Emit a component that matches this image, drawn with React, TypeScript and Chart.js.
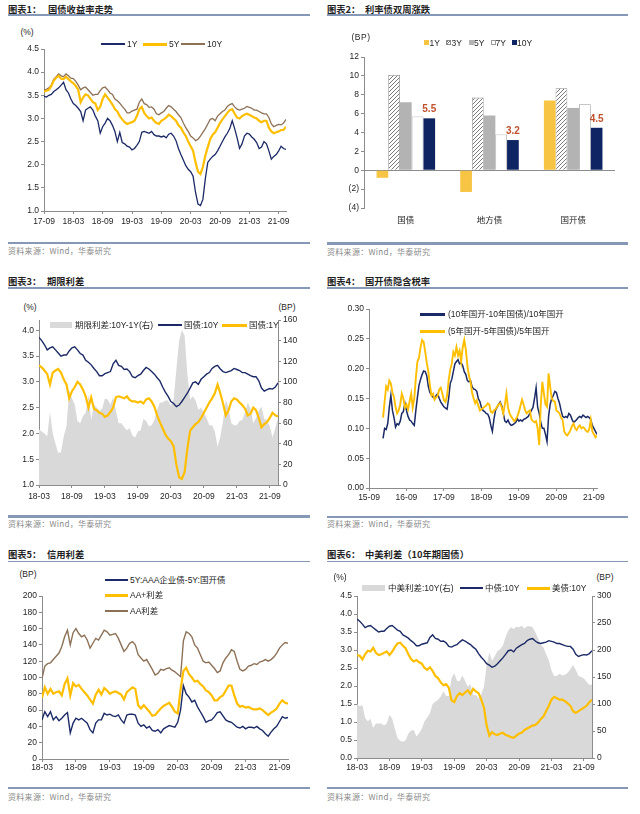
import React, { useEffect, useRef } from 'react';
import { Chart, registerables } from 'chart.js';
Chart.register(...registerables);

// ---------------- DATA ----------------
// Panel 1: China government bond yields (%), half-month steps from 2017-09
const p1XLabels = ['17-09', '18-03', '18-09', '19-03', '19-09', '20-03', '20-09', '21-03', '21-09'];
const cgb1Y = [
  3.48, 3.46, 3.50, 3.52, 3.58, 3.62, 3.66, 3.72, 3.78, 3.62,
  3.55, 3.42, 3.32, 3.28, 3.22, 3.15, 2.95, 3.18, 3.22, 3.25,
  3.18, 3.05, 2.95, 2.68, 2.82, 2.90, 3.00, 2.95, 2.85, 2.72,
  2.50, 2.70, 2.48, 2.45, 2.40, 2.38, 2.32, 2.35, 2.42, 2.50,
  2.70, 2.72, 2.70, 2.68, 2.72, 2.65, 2.62, 2.62, 2.60, 2.62,
  2.58, 2.66, 2.68, 2.62, 2.52, 2.35, 2.22, 2.10, 1.98, 1.90,
  1.85, 1.75, 1.40, 1.15, 1.12, 1.25, 1.70, 2.05, 2.12, 2.18,
  2.22, 2.30, 2.40, 2.50, 2.60, 2.68, 2.78, 2.95, 2.78, 2.58,
  2.35, 2.45, 2.62, 2.68, 2.66, 2.60, 2.55, 2.48, 2.35, 2.38,
  2.50, 2.45, 2.30, 2.12, 2.18, 2.22, 2.30, 2.40, 2.35, 2.33,
];
const cgb5Y = [
  3.58, 3.60, 3.62, 3.70, 3.82, 3.88, 3.92, 3.86, 3.85, 3.90,
  3.85, 3.80, 3.76, 3.70, 3.62, 3.35, 3.45, 3.52, 3.50, 3.42,
  3.35, 3.32, 3.18, 3.25, 3.42, 3.52, 3.45, 3.38, 3.30, 3.20,
  3.15, 3.05, 2.98, 2.92, 2.88, 2.90, 2.92, 2.95, 3.05, 3.20,
  3.25, 3.12, 3.05, 3.00, 3.02, 2.95, 2.90, 2.88, 2.95, 2.98,
  3.02, 3.08, 3.05, 3.00, 2.95, 2.85, 2.80, 2.70, 2.62, 2.50,
  2.40, 2.30, 2.05, 1.85, 1.80, 1.95, 2.20, 2.38, 2.55, 2.65,
  2.70, 2.80, 2.90, 2.98, 3.05, 3.12, 3.18, 3.20, 3.10, 3.02,
  3.00, 3.05, 3.08, 3.10, 3.08, 3.05, 3.02, 3.00, 2.95, 2.92,
  2.95, 2.95, 2.80, 2.72, 2.68, 2.70, 2.72, 2.75, 2.75, 2.82,
];
const cgb10Y = [
  3.62, 3.63, 3.66, 3.72, 3.85, 3.90, 3.96, 3.92, 3.90, 3.96,
  3.92, 3.87, 3.86, 3.80, 3.72, 3.62, 3.66, 3.68, 3.62, 3.56,
  3.50, 3.52, 3.52, 3.60, 3.66, 3.68, 3.62, 3.55, 3.52, 3.42,
  3.38, 3.33, 3.26, 3.20, 3.12, 3.12, 3.16, 3.18, 3.20, 3.35,
  3.42, 3.32, 3.30, 3.24, 3.25, 3.20, 3.10, 3.08, 3.12, 3.15,
  3.22, 3.28, 3.25, 3.20, 3.15, 3.08, 3.02, 2.90, 2.80, 2.72,
  2.62, 2.58, 2.52, 2.55, 2.62, 2.70, 2.78, 2.88, 2.98, 3.00,
  2.95, 3.05, 3.10, 3.15, 3.18, 3.26, 3.30, 3.32, 3.25, 3.20,
  3.18, 3.20, 3.22, 3.26, 3.24, 3.22, 3.18, 3.18, 3.15, 3.12,
  3.10, 3.10, 3.02, 2.88, 2.82, 2.85, 2.87, 2.86, 2.90, 2.98,
];

// Panel 2: two-week change (BP)
const p2Categories = ['国债', '地方债', '国开债'];
const p2Y1 = [-0.8, -2.3, 7.4];
const p2Y3 = [10.1, 7.7, 8.7];
const p2Y5 = [7.2, 5.8, 6.6];
const p2Y7 = [5.7, 3.8, 7.0];
const p2Y10 = [5.5, 3.2, 4.5];
const p2YTickLabels = ['(4)', '(2)', '0', '2', '4', '6', '8', '10', '12'];

// Panel 3: term spread 10Y-1Y (BP), half-month steps from 2018-03
const p3XLabels = ['18-03', '18-09', '19-03', '19-09', '20-03', '20-09', '21-03', '21-09'];
const p3StartIndex = 12; // 2018-03 position in the cgb arrays
const termSpread = [
  54, 52, 50, 47, 71, 50, 40, 31, 32, 47,
  57, 92, 84, 78, 62, 60, 67, 70, 88, 63,
  78, 75, 72, 74, 84, 83, 78, 85, 72, 60,
  60, 56, 53, 55, 48, 46, 52, 53, 64, 62,
  57, 58, 63, 73, 80, 80, 82, 82, 77, 83,
  112, 140, 150, 145, 108, 83, 86, 82, 73, 75,
  70, 65, 58, 58, 52, 37, 47, 62, 83, 75,
  60, 58, 58, 62, 63, 70, 80, 74, 60, 65,
  72, 76, 64, 63, 57, 46, 55, 65,
];

// Panel 4: implied tax rate, half-month steps from 2016-01 (month 4.5 after 15-09)
const p4XLabels = ['15-09', '16-09', '17-09', '18-09', '19-09', '20-09', '21-09'];
const p4Start = 4.5;
const taxRate10Y = [
  0.083, 0.100, 0.098, 0.108, 0.135, 0.155, 0.130, 0.118, 0.102, 0.108,
  0.106, 0.112, 0.125, 0.128, 0.142, 0.130, 0.120, 0.114, 0.112, 0.108,
  0.105, 0.130, 0.152, 0.172, 0.182, 0.190, 0.196, 0.195, 0.188, 0.170,
  0.160, 0.156, 0.152, 0.150, 0.155, 0.158, 0.150, 0.144, 0.140, 0.136,
  0.134, 0.132, 0.150, 0.175, 0.182, 0.195, 0.208, 0.212, 0.215, 0.208,
  0.210, 0.205, 0.195, 0.190, 0.180, 0.178, 0.180, 0.170, 0.166, 0.165,
  0.162, 0.150, 0.145, 0.135, 0.130, 0.128, 0.125, 0.124, 0.118, 0.105,
  0.095, 0.115, 0.130, 0.135, 0.140, 0.144, 0.138, 0.125, 0.112, 0.110,
  0.114, 0.108, 0.105, 0.106, 0.108, 0.110, 0.116, 0.112, 0.114, 0.112,
  0.115, 0.116, 0.118, 0.120, 0.125, 0.130, 0.135, 0.150, 0.168, 0.135,
  0.125, 0.110, 0.100, 0.100, 0.090, 0.078, 0.120, 0.140, 0.150, 0.155,
  0.162, 0.160, 0.150, 0.142, 0.130, 0.120, 0.118, 0.120, 0.118, 0.125,
  0.122, 0.115, 0.110, 0.112, 0.115, 0.118, 0.120, 0.118, 0.122, 0.120,
  0.118, 0.120, 0.118, 0.115, 0.105, 0.100, 0.095, 0.090,
];
const taxRate5Y = [
  0.118, 0.145, 0.170, 0.165, 0.180, 0.175, 0.160, 0.152, 0.136, 0.125,
  0.130, 0.140, 0.158, 0.150, 0.135, 0.140, 0.132, 0.145, 0.158, 0.135,
  0.150, 0.185, 0.212, 0.218, 0.236, 0.248, 0.245, 0.228, 0.210, 0.195,
  0.172, 0.155, 0.158, 0.148, 0.152, 0.155, 0.165, 0.168, 0.158, 0.147,
  0.144, 0.155, 0.180, 0.198, 0.208, 0.228, 0.222, 0.236, 0.222, 0.230,
  0.212, 0.236, 0.248, 0.232, 0.205, 0.188, 0.178, 0.160, 0.150, 0.142,
  0.147, 0.138, 0.130, 0.132, 0.134, 0.136, 0.138, 0.142, 0.140, 0.128,
  0.126, 0.130, 0.132, 0.136, 0.140, 0.142, 0.135, 0.125, 0.140, 0.158,
  0.135, 0.125, 0.120, 0.116, 0.112, 0.115, 0.120, 0.128, 0.138, 0.148,
  0.140, 0.130, 0.125, 0.128, 0.130, 0.115, 0.112, 0.110, 0.112, 0.100,
  0.072, 0.140, 0.178, 0.158, 0.140, 0.136, 0.192, 0.170, 0.150, 0.146,
  0.145, 0.130, 0.128, 0.125, 0.118, 0.114, 0.095, 0.090, 0.088, 0.092,
  0.097, 0.104, 0.108, 0.100, 0.097, 0.102, 0.105, 0.100, 0.102, 0.100,
  0.096, 0.094, 0.098, 0.114, 0.095, 0.090, 0.085, 0.088,
];

// Panel 5: credit spreads (BP), half-month steps from 2018-03
const aaaSpread = [
  48, 58, 52, 58, 48, 52, 47, 50, 54, 57,
  32, 44, 50, 48, 50, 47, 44, 36, 32, 44,
  48, 48, 56, 54, 55, 53, 52, 54, 48, 44,
  54, 55, 55, 54, 44, 40, 42, 38, 40, 35,
  34, 36, 32, 37, 39, 41, 40, 39, 45, 60,
  90, 80, 76, 70, 72, 64, 58, 52, 45, 47,
  48, 52, 57, 58, 53, 48, 46, 45, 42, 39,
  38, 40, 37, 39, 39, 38, 40, 37, 35, 31,
  28, 33, 37, 40, 46, 52, 50, 51,
];
const aaPlusSpread = [
  75, 88, 80, 86, 80, 82, 83, 78, 92, 99,
  78, 93, 89, 91, 86, 82, 78, 73, 68, 79,
  85, 79, 87, 84, 80, 82, 83, 81, 79, 73,
  82, 85, 88, 86, 66, 62, 66, 62, 58, 53,
  54, 58, 62, 65, 67, 69, 64, 58, 56, 85,
  108, 112, 104, 100, 95, 96, 92, 89, 84, 82,
  78, 72, 72, 76, 78, 84, 90, 90, 78, 68,
  64, 65, 63, 64, 62, 61, 61, 62, 60, 57,
  54, 57, 59, 62, 68, 72, 69, 68,
];
const aaSpread = [
  99, 114, 117, 118, 122, 126, 130, 138, 150, 158,
  140, 155, 160, 154, 150, 152, 146, 136, 142, 148,
  146, 152, 158, 156, 152, 153, 154, 148, 140, 132,
  136, 142, 144, 140, 128, 124, 120, 122, 116, 110,
  103, 105, 110, 109, 111, 112, 109, 107, 104, 101,
  145, 156, 154, 150, 140, 136, 128, 120, 118, 119,
  115, 111, 106, 108, 118, 124, 128, 134, 132, 120,
  110, 108, 110, 114, 115, 117, 116, 119, 120, 122,
  120, 122, 125, 130, 136, 140, 143, 142,
];

// Panel 6: US 10Y (%) and China-US 10Y spread (BP), half-month steps from 2018-03
const ust10Y = [
  2.86, 2.84, 2.74, 2.88, 2.98, 2.96, 3.06, 2.92, 2.86, 2.88,
  2.92, 2.96, 2.86, 2.95, 3.08, 3.18, 3.20, 3.12, 3.05, 2.88,
  2.75, 2.68, 2.72, 2.66, 2.62, 2.50, 2.45, 2.52, 2.42, 2.28,
  2.22, 2.10, 2.02, 2.05, 1.95, 1.60, 1.55, 1.72, 1.80, 1.75,
  1.82, 1.88, 1.78, 1.92, 1.85, 1.80, 1.62, 1.40, 0.90, 0.62,
  0.72, 0.66, 0.64, 0.68, 0.70, 0.64, 0.62, 0.58, 0.56, 0.62,
  0.68, 0.70, 0.78, 0.82, 0.86, 0.90, 0.92, 0.98, 1.08, 1.15,
  1.30, 1.45, 1.62, 1.70, 1.66, 1.62, 1.62, 1.58, 1.52, 1.45,
  1.30, 1.25, 1.30, 1.35, 1.40, 1.45, 1.55, 1.62,
];
const cnUsSpread = [
  100, 96, 98, 74, 68, 72, 56, 64, 64, 64,
  60, 64, 80, 73, 54, 37, 32, 30, 33, 45,
  51, 52, 40, 46, 54, 68, 75, 83, 100, 104,
  108, 114, 123, 115, 115, 148, 157, 143, 142, 153,
  143, 132, 137, 116, 117, 110, 118, 132, 172, 196,
  180, 189, 198, 202, 208, 224, 236, 242, 239, 243,
  242, 245, 240, 244, 244, 242, 233, 222, 210, 205,
  192, 181, 162, 152, 152, 156, 153, 154, 158, 165,
  172, 163, 152, 150, 147, 141, 135, 136,
];

// ---------------- STYLE ----------------
const NAVY = '#1b2a66';
const NAVY_BAR = '#0f2463';
const GOLD = '#ffbf00';
const BAR_GOLD = '#f7c443';
const BROWN = '#8c7157';
const GRAY_AREA = '#d9d9d9';
const AX = '#8c8c8c';
const TICK = '#262626';
const RULE = '#8599b6';
const LABEL_RED = '#c0522d';
const SANS = '"Liberation Sans", Arial, "Noto Sans CJK SC", sans-serif';
const CJK = '"Noto Sans CJK SC", "Liberation Sans", sans-serif';
const tickFont = { family: SANS, size: 8.5 };

const pts = (vals: number[], start: number, step: number) => vals.map((v, i) => ({ x: start + i * step, y: v }));

type Box = { L: number; T: number; R: number; B: number; yW: number; rW?: number; xH: number };
const PAD = { left: 2, top: 8, right: 14, bottom: 2 };

function baseOptions(scales: any, extra: any = {}) {
  return {
    responsive: false,
    animation: false,
    events: [],
    layout: { autoPadding: false, padding: PAD },
    plugins: { legend: { display: false }, tooltip: { enabled: false }, title: { display: false } },
    elements: { point: { radius: 0 }, line: { tension: 0 } },
    scales,
    ...extra,
  };
}

function xLinear(max: number, step: number, labels: string[], h: number, pad: number) {
  return {
    type: 'linear', position: 'bottom', min: 0, max,
    ticks: {
      stepSize: step, includeBounds: false, autoSkip: false, maxRotation: 0, font: tickFont, color: TICK, padding: pad,
      callback: (v: number) => labels[Math.round(v / step)] ?? '',
    },
    grid: { drawOnChartArea: false, drawTicks: true, tickLength: 3, color: AX },
    border: { display: true, color: AX, width: 1 },
    afterFit: (s: any) => { s.height = h; },
  };
}

function yLinear(position: 'left' | 'right', min: number, max: number, step: number, dec: number, w: number) {
  return {
    type: 'linear', position, min, max,
    ticks: {
      stepSize: step, includeBounds: false, maxTicksLimit: 30, font: tickFont, color: TICK, padding: 2,
      callback: (v: number) => Number(v).toFixed(dec),
    },
    grid: { drawOnChartArea: false, drawTicks: true, tickLength: 3, color: AX },
    border: { display: true, color: AX, width: 1 },
    afterFit: (s: any) => { s.width = w; },
  };
}

const lineDs = (data: any[], color: string, width: number, extra: any = {}) => ({
  type: 'line', data, borderColor: color, borderWidth: width, pointRadius: 0, tension: 0, fill: false, ...extra,
});

function ChartBox({ box, make }: { box: Box; make: (c: HTMLCanvasElement) => any }) {
  const ref = useRef<HTMLCanvasElement>(null);
  const rW = box.rW ?? 0;
  const left = box.L - box.yW - PAD.left;
  const top = box.T - PAD.top;
  const width = box.R - box.L + box.yW + rW + PAD.left + PAD.right;
  const height = box.B - box.T + box.xH + PAD.top + PAD.bottom;
  useEffect(() => {
    const c = ref.current!;
    const chart = new Chart(c, make(c));
    return () => chart.destroy();
  }, []);
  return <canvas ref={ref} width={width} height={height} style={{ position: 'absolute', left, top, width, height }} />;
}

// ---------------- CHART CONFIGS ----------------
const BOX1: Box = { L: 44, T: 49, R: 286, B: 211, yW: 30, xH: 20 };
const BOX2: Box = { L: 364, T: 57, R: 615, B: 208, yW: 30, xH: 20 };
const BOX3: Box = { L: 39, T: 320, R: 278, B: 485, yW: 28, rW: 26, xH: 20 };
const BOX4: Box = { L: 369, T: 309, R: 597, B: 488, yW: 30, xH: 20 };
const BOX5: Box = { L: 42, T: 596, R: 288, B: 759, yW: 30, xH: 20 };
const BOX6: Box = { L: 357, T: 596, R: 592, B: 758, yW: 30, rW: 26, xH: 20 };

const makeP1 = () => ({
  type: 'line',
  data: {
    datasets: [
      lineDs(pts(cgb1Y, 0, 0.5), NAVY, 1.3),
      lineDs(pts(cgb5Y, 0, 0.5), GOLD, 2.2),
      lineDs(pts(cgb10Y, 0, 0.5), BROWN, 1.3),
    ],
  },
  options: baseOptions({
    x: xLinear(49.5, 6, p1XLabels, BOX1.xH, 3),
    y: yLinear('left', 1, 4.5, 0.5, 1, BOX1.yW),
  }),
});

const barLabelPlugin = {
  id: 'barLabels',
  afterDatasetsDraw(chart: any) {
    const meta = chart.getDatasetMeta(4);
    const ctx = chart.ctx;
    ctx.save();
    ctx.font = 'bold 10px "Liberation Sans", Arial, sans-serif';
    ctx.fillStyle = LABEL_RED;
    ctx.textAlign = 'center';
    ctx.textBaseline = 'bottom';
    meta.data.forEach((el: any, i: number) => {
      ctx.fillText(p2Y10[i].toFixed(1), el.x, el.y - 4);
    });
    ctx.restore();
  },
};

const makeP2 = (c: HTMLCanvasElement) => {
  const pc = document.createElement('canvas');
  pc.width = 4; pc.height = 4;
  const g = pc.getContext('2d')!;
  g.fillStyle = '#ffffff'; g.fillRect(0, 0, 4, 4);
  g.strokeStyle = '#7a7a7a'; g.lineWidth = 1;
  g.beginPath();
  g.moveTo(0, 4); g.lineTo(4, 0);
  g.moveTo(-1, 1); g.lineTo(1, -1);
  g.moveTo(3, 5); g.lineTo(5, 3);
  g.stroke();
  const hatch = c.getContext('2d')!.createPattern(pc, 'repeat');
  return {
    type: 'bar',
    data: {
      labels: p2Categories,
      datasets: [
        { label: '1Y', data: p2Y1, backgroundColor: BAR_GOLD, borderWidth: 0 },
        { label: '3Y', data: p2Y3, backgroundColor: hatch, borderColor: '#8c8c8c', borderWidth: 0.8 },
        { label: '5Y', data: p2Y5, backgroundColor: '#b3b3b3', borderWidth: 0 },
        { label: '7Y', data: p2Y7, backgroundColor: '#ffffff', borderColor: '#9a9a9a', borderWidth: 0.8 },
        { label: '10Y', data: p2Y10, backgroundColor: NAVY_BAR, borderWidth: 0 },
      ],
    },
    options: baseOptions({
      x: {
        type: 'category',
        grid: { display: false, drawTicks: false },
        border: { display: false },
        ticks: { font: { family: CJK, size: 8.5 }, color: TICK, padding: 7 },
        afterFit: (s: any) => { s.height = BOX2.xH; },
      },
      y: {
        type: 'linear', min: -4, max: 12,
        ticks: {
          stepSize: 2, font: tickFont, color: TICK, padding: 2,
          callback: (v: number) => p2YTickLabels[Math.round((v + 4) / 2)] ?? '',
        },
        grid: {
          drawOnChartArea: true, drawTicks: true, tickLength: 3, tickColor: AX,
          color: (ctx: any) => (ctx.tick && ctx.tick.value === 0 ? AX : 'rgba(0,0,0,0)'),
        },
        border: { display: true, color: AX },
        afterFit: (s: any) => { s.width = BOX2.yW; },
      },
    }, { datasets: { bar: { categoryPercentage: 0.7, barPercentage: 1.0 } } }),
    plugins: [barLabelPlugin],
  };
};

const makeP3 = () => ({
  type: 'line',
  data: {
    datasets: [
      lineDs(pts(cgb10Y.slice(p3StartIndex), 0, 0.5), NAVY, 1.4, { yAxisID: 'y' }),
      lineDs(pts(cgb1Y.slice(p3StartIndex), 0, 0.5), GOLD, 2.2, { yAxisID: 'y' }),
      lineDs(pts(termSpread, 0, 0.5), GRAY_AREA, 0, { yAxisID: 'y2', fill: 'origin', backgroundColor: GRAY_AREA, order: 9 }),
    ],
  },
  options: baseOptions({
    x: xLinear(43.5, 6, p3XLabels, BOX3.xH, 3.5),
    y: yLinear('left', 1, 4.2, 0.5, 1, BOX3.yW),
    y2: yLinear('right', 0, 160, 20, 0, BOX3.rW!),
  }),
});

const makeP4 = () => ({
  type: 'line',
  data: {
    datasets: [
      lineDs(pts(taxRate5Y, p4Start, 0.5), GOLD, 1.9),
      lineDs(pts(taxRate10Y, p4Start, 0.5), NAVY, 1.5, { order: 2 }),
    ],
  },
  options: baseOptions({
    x: xLinear(73, 12, p4XLabels, BOX4.xH, 2),
    y: yLinear('left', 0, 0.3, 0.05, 2, BOX4.yW),
  }),
});

const makeP5 = () => ({
  type: 'line',
  data: {
    datasets: [
      lineDs(pts(aaaSpread, 0, 0.5), NAVY, 1.4),
      lineDs(pts(aaPlusSpread, 0, 0.5), GOLD, 2.2),
      lineDs(pts(aaSpread, 0, 0.5), BROWN, 1.4),
    ],
  },
  options: baseOptions({
    x: xLinear(43.5, 6, p3XLabels, BOX5.xH, 1),
    y: yLinear('left', 0, 200, 20, 0, BOX5.yW),
  }),
});

const makeP6 = () => ({
  type: 'line',
  data: {
    datasets: [
      lineDs(pts(cgb10Y.slice(p3StartIndex), 0, 0.5), NAVY, 1.4, { yAxisID: 'y' }),
      lineDs(pts(ust10Y, 0, 0.5), GOLD, 2.2, { yAxisID: 'y' }),
      lineDs(pts(cnUsSpread, 0, 0.5), GRAY_AREA, 0, { yAxisID: 'y2', fill: 'origin', backgroundColor: GRAY_AREA, order: 9 }),
    ],
  },
  options: baseOptions({
    x: xLinear(43.5, 6, p3XLabels, BOX6.xH, 2),
    y: yLinear('left', 0, 4.5, 0.5, 1, BOX6.yW),
    y2: yLinear('right', 0, 300, 50, 0, BOX6.rW!),
  }),
});

// ---------------- OVERLAY HELPERS ----------------
function Txt({ x, y, children, size = 8.5, color = TICK, weight = 400, align = 'left', family = SANS, ls = 0 }: any) {
  const tx = align === 'left' ? '0' : align === 'center' ? '-50%' : '-100%';
  return (
    <div style={{
      position: 'absolute', left: x, top: y, transform: `translate(${tx},-50%)`, fontSize: size, color,
      fontWeight: weight, fontFamily: family, whiteSpace: 'nowrap', lineHeight: 1, letterSpacing: ls,
    }}>{children}</div>
  );
}

function HLine({ x1, x2, y, h, color }: any) {
  return <div style={{ position: 'absolute', left: x1, top: y - h / 2, width: x2 - x1, height: h, background: color }} />;
}

function Frame({ x0, x1, titleY, ruleY, bottomY, sourceY, num, title, textX }: any) {
  return (
    <>
      <Txt x={x0} y={titleY} size={9.3} weight={700} family={CJK} color="#1f1f1f">{`图表${num}：`}</Txt>
      <Txt x={textX} y={titleY} size={9.3} weight={700} family={CJK} color="#1f1f1f">{title}</Txt>
      <HLine x1={x0} x2={x1} y={ruleY} h={1.3} color={RULE} />
      <HLine x1={x0} x2={x1} y={bottomY} h={2.3} color={RULE} />
      <Txt x={x0} y={sourceY} size={8} family={CJK} color="#8a8a8a" ls={0.3}>资料来源：Wind，华泰研究</Txt>
    </>
  );
}

function LegLine({ x1, x2, y, color, h, text, tx }: any) {
  return (
    <>
      <HLine x1={x1} x2={x2} y={y} h={h} color={color} />
      <Txt x={tx} y={y}>{text}</Txt>
    </>
  );
}

function Sq({ x, y, bg, border }: any) {
  return <div style={{ position: 'absolute', left: x, top: y - 2.5, width: 5, height: 5, background: bg, boxSizing: 'border-box', border: border || 'none' }} />;
}

export default function App() {
  return (
    <div style={{ position: 'absolute', left: 0, top: 0, width: 640, height: 814, background: '#fff', overflow: 'hidden', fontFamily: SANS }}>
      <Frame x0={8} x1={310} titleY={10} ruleY={15} bottomY={243} sourceY={251} num={1} title="国债收益率走势" textX={48} />
      <Frame x0={327} x1={628} titleY={10} ruleY={15} bottomY={243.5} sourceY={251.5} num={2} title="利率债双周涨跌" textX={365} />
      <Frame x0={8} x1={310} titleY={282} ruleY={288} bottomY={516.5} sourceY={524} num={3} title="期限利差" textX={47} />
      <Frame x0={327} x1={628} titleY={282} ruleY={288} bottomY={517} sourceY={524} num={4} title="国开债隐含税率" textX={365} />
      <Frame x0={8} x1={310} titleY={555} ruleY={561.5} bottomY={788} sourceY={797} num={5} title="信用利差" textX={47} />
      <Frame x0={327} x1={628} titleY={555} ruleY={561.5} bottomY={788} sourceY={797} num={6} title="中美利差（10年期国债）" textX={365} />

      <ChartBox box={BOX1} make={makeP1} />
      <ChartBox box={BOX2} make={makeP2} />
      <ChartBox box={BOX3} make={makeP3} />
      <ChartBox box={BOX4} make={makeP4} />
      <ChartBox box={BOX5} make={makeP5} />
      <ChartBox box={BOX6} make={makeP6} />

      {/* Panel 1 */}
      <Txt x={27} y={32} align="center">(%)</Txt>
      <LegLine x1={101} x2={125} y={44} h={2.2} color={NAVY} tx={127} text="1Y" />
      <LegLine x1={143} x2={167} y={44} h={3} color={GOLD} tx={169} text="5Y" />
      <LegLine x1={181} x2={205} y={44} h={2.2} color={BROWN} tx={207} text="10Y" />

      {/* Panel 2 */}
      <Txt x={361} y={37} align="center" ls={0.5}>(BP)</Txt>
      <Sq x={424} y={42.7} bg={BAR_GOLD} />
      <Txt x={429.5} y={42.7}>1Y</Txt>
      <Sq x={446} y={42.7} bg="repeating-linear-gradient(135deg, #7a7a7a 0 0.8px, #ffffff 0.8px 2px)" border="0.5px solid #8c8c8c" />
      <Txt x={451.5} y={42.7}>3Y</Txt>
      <Sq x={468.5} y={42.7} bg="#b3b3b3" />
      <Txt x={474} y={42.7}>5Y</Txt>
      <Sq x={490.5} y={42.7} bg="#ffffff" border="0.7px solid #9a9a9a" />
      <Txt x={495.5} y={42.7}>7Y</Txt>
      <Sq x={511.5} y={42.7} bg={NAVY_BAR} />
      <Txt x={517} y={42.7}>10Y</Txt>

      {/* Panel 3 */}
      <Txt x={30} y={307} align="center">(%)</Txt>
      <Txt x={287} y={307} align="center">(BP)</Txt>
      <HLine x1={50} x2={72} y={325} h={6.5} color={GRAY_AREA} />
      <Txt x={75} y={325}>期限利差:10Y-1Y(右)</Txt>
      <LegLine x1={158} x2={182} y={325} h={2.2} color={NAVY} tx={184} text="国债:10Y" />
      <LegLine x1={222} x2={247} y={325} h={3} color={GOLD} tx={249} text="国债:1Y" />

      {/* Panel 4 */}
      <LegLine x1={420} x2={445} y={314.3} h={2.6} color={NAVY} tx={448} text="(10年国开-10年国债)/10年国开" />
      <LegLine x1={420} x2={445} y={331} h={3} color={GOLD} tx={448} text="(5年国开-5年国债)/5年国开" />

      {/* Panel 5 */}
      <Txt x={28} y={574} align="center">(BP)</Txt>
      <LegLine x1={105} x2={128} y={580} h={2.2} color={NAVY} tx={130} text="5Y:AAA企业债-5Y:国开债" />
      <LegLine x1={105} x2={128} y={595} h={3} color={GOLD} tx={130} text="AA+利差" />
      <LegLine x1={105} x2={128} y={610.7} h={2.2} color={BROWN} tx={130} text="AA利差" />

      {/* Panel 6 */}
      <Txt x={340} y={577} align="center">(%)</Txt>
      <Txt x={605} y={577} align="center">(BP)</Txt>
      <HLine x1={362} x2={385} y={588.3} h={6} color={GRAY_AREA} />
      <Txt x={388} y={588.3}>中美利差:10Y(右)</Txt>
      <LegLine x1={460} x2={483} y={588.3} h={2.2} color={NAVY} tx={485} text="中债:10Y" />
      <LegLine x1={527} x2={550} y={588.3} h={3} color={GOLD} tx={552} text="美债:10Y" />
    </div>
  );
}
